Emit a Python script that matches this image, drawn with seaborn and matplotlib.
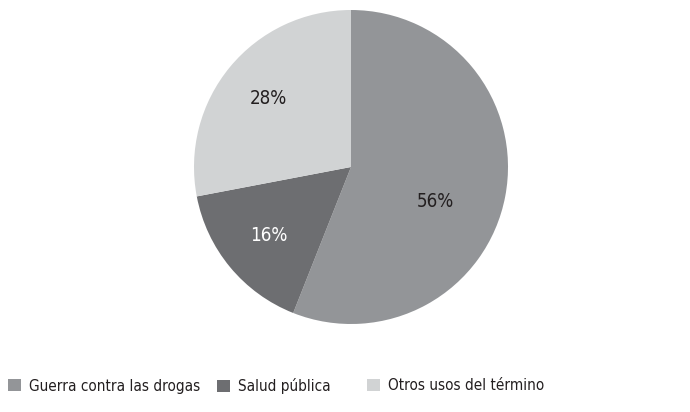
import matplotlib
matplotlib.use("Agg")
import matplotlib.pyplot as plt
import seaborn as sns
from matplotlib.patches import Patch

# data
categories = ["Guerra contra las drogas", "Salud pública", "Otros usos del término"]
shares = [56, 16, 28]
colors = ["#939598", "#6d6e71", "#d1d3d4"]
label_colors = ["#231f20", "white", "#231f20"]

sns.set_theme(style="white")
plt.rcParams['font.family'] = ['DejaVu Sans']
plt.rcParams['font.stretch'] = 'condensed'

fig = plt.figure(figsize=(6.9, 4.12), dpi=100)
# pie centred at (351,167) px with radius ~157 px
ax = fig.add_axes([(351 - 157) / 690, (412 - 167 - 157) / 412, 314 / 690, 314 / 412])

wedges, texts, autotexts = ax.pie(
    shares, colors=colors, startangle=90, counterclock=False,
    autopct=lambda p: f"{p:.0f}%", pctdistance=0.68,
    wedgeprops=dict(linewidth=0),
    textprops=dict(fontsize=13.5),
)
for t, c in zip(autotexts, label_colors):
    t.set_color(c)
# the big slice label sits a bit lower than the wedge middle
autotexts[0].set_position((0.54, -0.22))

ax.set_xlim(-1, 1)
ax.set_ylim(-1, 1)
ax.set_aspect("equal")
ax.axis("off")

# legend: three entries placed individually along the bottom
legend_x = [8, 217, 367]
for name, col, x in zip(categories, colors, legend_x):
    fig.legend(handles=[Patch(facecolor=col, edgecolor="none", label=name)],
               loc="center left", bbox_to_anchor=(x / 690, 1 - 386 / 412),
               frameon=False, fontsize=11, handlelength=0.85, handleheight=0.85,
               handletextpad=0.55, borderpad=0, borderaxespad=0,
               labelcolor="#231f20")

fig.savefig("out.png", dpi=100)
